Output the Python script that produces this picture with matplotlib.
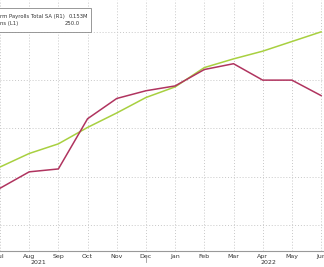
import matplotlib.pyplot as plt
from matplotlib.patches import Rectangle

# Meses (jul/2021 a jun/2022)
meses = ['Jul', 'Aug', 'Sep', 'Oct', 'Nov', 'Dec', 'Jan', 'Feb', 'Mar', 'Apr', 'May', 'Jun']
anos = ['2021', '2022']

# Séries (escala L1)
payrolls = [88, 105, 108, 160, 181, 189, 194, 211, 217, 200, 200, 184]
expectativa = [110, 124, 134, 151, 166, 182, 193, 213, 222, 230, 240, 250]

# Linhas de grade horizontais
niveis_y = [50, 100, 150, 200, 250]

# Textos da legenda (cortada à esquerda)
leg_nomes = ['rm Payrolls Total SA (R1)', 'ns (L1)']
leg_valores = ['0.153M', '250.0']

fig = plt.figure(figsize=(3.24, 2.67), dpi=100)
ax = fig.add_axes([0, 16 / 267, 1, 251 / 267])

x = list(range(len(meses)))
ax.plot(x, expectativa, color='#a8d040', lw=1.1)
ax.plot(x, payrolls, color='#b0345f', lw=1.1)

ax.set_xlim(0.02, 11.1)
ax.set_ylim(23, 283)
ax.set_yticks(niveis_y)
ax.set_xticks(x)
ax.set_xticklabels(meses, fontsize=4.5, color='#333333')
ax.tick_params(axis='x', length=0, pad=2)
ax.tick_params(axis='y', length=0, labelleft=False)
ax.grid(True, color='#c8c8c8', linestyle=(0, (1, 2)), lw=0.7)

for lado in ['top', 'right', 'left']:
    ax.spines[lado].set_visible(False)
ax.spines['bottom'].set_color('#999999')
ax.spines['bottom'].set_linewidth(0.8)

# Rótulos dos anos
ax.text(1.3, -0.044, anos[0], transform=ax.get_xaxis_transform(), fontsize=4.5,
        color='#333333', ha='center', va='center')
ax.text(9.2, -0.044, anos[1], transform=ax.get_xaxis_transform(), fontsize=4.5,
        color='#333333', ha='center', va='center')
ax.plot([5, 5], [-0.016, -0.045], transform=ax.get_xaxis_transform(), color='#999999',
        lw=0.6, clip_on=False)

# Caixa da legenda (coordenadas em pixels da figura)
W, H = 324, 267
fig.patches.append(Rectangle((-2 / W, 1 - 32 / H), 93 / W, 24 / H, transform=fig.transFigure,
                             fc='white', ec='#888888', lw=0.6, zorder=5))
for i, (nome, valor) in enumerate(zip(leg_nomes, leg_valores)):
    y = 1 - (16.5 + 7 * i) / H
    x_val = 88 if i == 0 else 80
    fig.text(0, y, nome, fontsize=3.8, color='#333333', ha='left', va='center', zorder=6)
    fig.text(x_val / W, y, valor, fontsize=3.8, color='#333333', ha='right',
             va='center', zorder=6)

fig.savefig('out.png', dpi=100)
